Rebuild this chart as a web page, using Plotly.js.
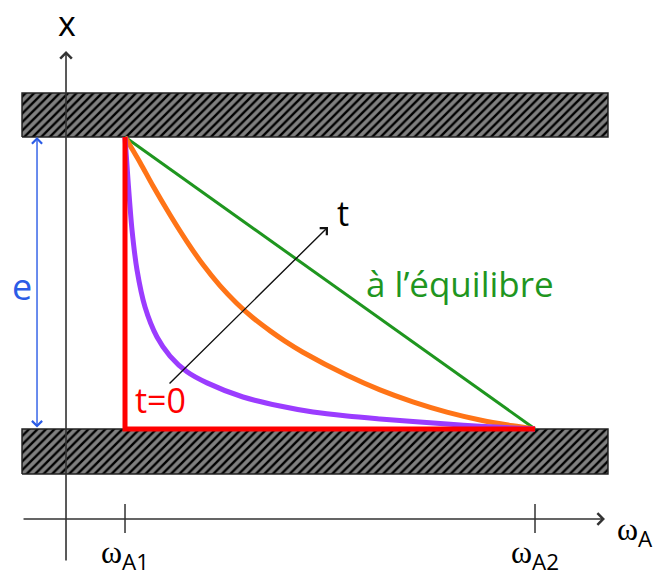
<!DOCTYPE html>
<html>
<head>
<meta charset="utf-8">
<script src="https://cdn.plot.ly/plotly-3.0.1.min.js"></script>
<style>html,body{margin:0;padding:0;background:#fff}#chart{width:658px;height:576px}</style>
</head>
<body>
<div id="chart"></div>
<script>
// Normalised coordinates: horizontal = (omega - omegaA1)/(omegaA2 - omegaA1), vertical = x / e
const tickValues = [0, 1];
const tickLabels = ['A1', 'A2'];

// Equilibrium (linear) profile
const eqW = [0, 1];
const eqX = [1, 0];

// Initial profile t = 0
const t0W = [0, 0, 1];
const t0X = [1, 0, 0];

// Intermediate profile (later time) - orange
const orangeW = [0, 0.037, 0.068, 0.110, 0.151, 0.190, 0.232, 0.273, 0.312, 0.354, 0.390, 0.434, 0.5415, 0.622, 0.702, 0.785, 0.866, 0.946, 1];
const orangeX = [1, 0.912, 0.833, 0.733, 0.642, 0.563, 0.490, 0.430, 0.381, 0.336, 0.301, 0.263, 0.184, 0.134, 0.093, 0.058, 0.031, 0.011, 0];

// Intermediate profile (early time) - purple
const purpleW = [0, 0.0073, 0.0171, 0.0293, 0.0488, 0.078, 0.1098, 0.1512, 0.2, 0.2878, 0.378, 0.4585, 0.5415, 0.622, 0.7024, 0.7854, 0.866, 0.9463, 1];
const purpleX = [1, 0.8527, 0.6815, 0.5445, 0.4178, 0.3151, 0.250, 0.196, 0.158, 0.1096, 0.0788, 0.0582, 0.0445, 0.0345, 0.0255, 0.0170, 0.0095, 0.0035, 0];

// Walls (membrane faces) extents
const wallW = [-0.2512, 1.178];
const topWallX = [1, 1.1507];
const bottomWallX = [-0.154, 0];

// Axes
const vAxisW = -0.1439;
const vAxisX = [-0.4555, 1.2945];
const hAxisX = -0.3082;
const hAxisW = [-0.2512, 1.1707];
const tickSpan = [-0.2568, -0.3562];

// Arrow for time
const timeArrowW = [0.1049, 0.4951];
const timeArrowX = [0.1507, 0.6918];

// Thickness arrow
const eArrowW = -0.2146;
const eArrowX = [0, 1];

const hatch = {shape: '/', size: 6, solidity: 0.4, fgcolor: '#000000', bgcolor: '#808080', fillmode: 'replace'};

function wallTrace(xr) {
  return {
    x: [wallW[0], wallW[1], wallW[1], wallW[0], wallW[0]],
    y: [xr[0], xr[0], xr[1], xr[1], xr[0]],
    mode: 'lines', fill: 'toself', fillcolor: '#808080', fillpattern: hatch,
    line: {color: '#222', width: 1.5}, hoverinfo: 'skip', showlegend: false
  };
}

const tickXs = [], tickYs = [];
tickValues.forEach(v => { tickXs.push(v, v, null); tickYs.push(tickSpan[0], tickSpan[1], null); });

const traces = [
  wallTrace(topWallX),
  wallTrace(bottomWallX),
  {x: tickXs, y: tickYs, mode: 'lines', line: {color: '#333', width: 1.5}, showlegend: false, hoverinfo: 'skip'},
  {x: eqW, y: eqX, mode: 'lines', line: {color: '#1f961f', width: 3}, showlegend: false},
  {x: orangeW, y: orangeX, mode: 'lines', line: {color: '#ff7417', width: 5, shape: 'spline', smoothing: 0.8}, showlegend: false},
  {x: purpleW, y: purpleX, mode: 'lines', line: {color: '#9b3cff', width: 5, shape: 'spline', smoothing: 0.8}, showlegend: false},
  {x: t0W, y: t0X, mode: 'lines', line: {color: '#ff0000', width: 5}, showlegend: false}
];

const arrowBase = {xref: 'x', yref: 'y', axref: 'x', ayref: 'y', text: '', showarrow: true, arrowhead: 4, arrowsize: 1.4, arrowwidth: 1.6};

function omegaLabel(sub) {
  return 'ω<sub><span style="font-family:Open Sans">' + sub + '</span></sub>';
}

const annotations = [
  Object.assign({}, arrowBase, {x: vAxisW, y: vAxisX[1], ax: vAxisW, ay: vAxisX[0], arrowcolor: '#333'}),
  Object.assign({}, arrowBase, {x: hAxisW[1], y: hAxisX, ax: hAxisW[0], ay: hAxisX, arrowcolor: '#333'}),
  Object.assign({}, arrowBase, {x: timeArrowW[1], y: timeArrowX[1], ax: timeArrowW[0], ay: timeArrowX[0], arrowcolor: '#111', arrowwidth: 1.4}),
  Object.assign({}, arrowBase, {x: eArrowW, y: eArrowX[1], ax: eArrowW, ay: eArrowX[0], arrowcolor: '#2b5ce6', arrowside: 'end+start', arrowwidth: 1.4}),
  {x: -0.1415, y: 1.3904, xref: 'x', yref: 'y', text: 'x', showarrow: false, font: {family: 'Open Sans', size: 34, color: '#000'}},
  {x: -0.2512, y: 0.4897, xref: 'x', yref: 'y', text: 'e', showarrow: false, font: {family: 'Open Sans', size: 36, color: '#2b5ce6'}},
  {x: 0.5317, y: 0.7397, xref: 'x', yref: 'y', text: 't', showarrow: false, font: {family: 'Open Sans', size: 34, color: '#000'}},
  {x: 0.0854, y: 0.0993, xref: 'x', yref: 'y', text: 't=0', showarrow: false, font: {family: 'Open Sans', size: 34, color: '#ff0000'}},
  {x: 0.8171, y: 0.50, xref: 'x', yref: 'y', text: 'à l’équilibre', showarrow: false, font: {family: 'Open Sans', size: 35, color: '#1f961f'}},
  {x: 1.2439, y: -0.356, xref: 'x', yref: 'y', text: omegaLabel('A'), showarrow: false, font: {family: 'Liberation Serif', size: 32, color: '#000'}}
];
tickValues.forEach((v, i) => {
  annotations.push({x: v, y: -0.4315, xref: 'x', yref: 'y', text: omegaLabel(tickLabels[i]), showarrow: false, font: {family: 'Liberation Serif', size: 32, color: '#000'}});
});

const layout = {
  width: 658, height: 576,
  margin: {l: 0, r: 0, t: 0, b: 0},
  paper_bgcolor: '#fff', plot_bgcolor: '#fff',
  xaxis: {range: [-0.3049, 1.3], showgrid: false, zeroline: false, showticklabels: false, ticks: '', showline: false, fixedrange: true},
  yaxis: {range: [-0.5034, 1.4692], showgrid: false, zeroline: false, showticklabels: false, ticks: '', showline: false, fixedrange: true},
  annotations: annotations,
  showlegend: false
};

Plotly.newPlot('chart', traces, layout, {displayModeBar: false, staticPlot: true});
</script>
</body>
</html>
